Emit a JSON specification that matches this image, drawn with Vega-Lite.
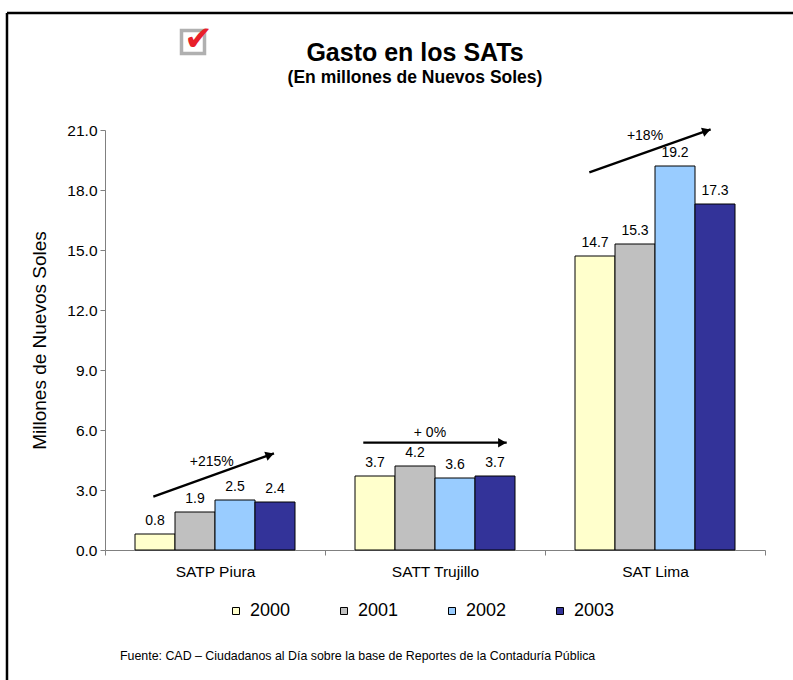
{
  "$schema": "https://vega.github.io/schema/vega-lite/v6.json",
  "width": 660,
  "height": 420,
  "autosize": {"type": "none"},
  "padding": {"left": 105, "top": 130, "right": 28, "bottom": 130},
  "background": "white",
  "config": {
    "view": {"stroke": null},
    "font": "Liberation Sans",
    "text": {"font": "Liberation Sans"}
  },
  "title": {
    "text": "Gasto en los SATs",
    "subtitle": "(En millones de Nuevos Soles)",
    "anchor": "middle",
    "frame": "group",
    "dx": -20,
    "offset": -75,
    "fontSize": 25,
    "fontWeight": "bold",
    "color": "black",
    "subtitleFontSize": 17.5,
    "subtitleFontWeight": "bold",
    "subtitleColor": "black",
    "subtitlePadding": 3,
    "font": "Liberation Sans",
    "subtitleFont": "Liberation Sans"
  },
  "datasets": {
    "bars": [
      {"entidad": "SATP Piura", "anio": "2000", "valor": 0.8},
      {"entidad": "SATP Piura", "anio": "2001", "valor": 1.9},
      {"entidad": "SATP Piura", "anio": "2002", "valor": 2.5},
      {"entidad": "SATP Piura", "anio": "2003", "valor": 2.4},
      {"entidad": "SATT Trujillo", "anio": "2000", "valor": 3.7},
      {"entidad": "SATT Trujillo", "anio": "2001", "valor": 4.2},
      {"entidad": "SATT Trujillo", "anio": "2002", "valor": 3.6},
      {"entidad": "SATT Trujillo", "anio": "2003", "valor": 3.7},
      {"entidad": "SAT Lima", "anio": "2000", "valor": 14.7},
      {"entidad": "SAT Lima", "anio": "2001", "valor": 15.3},
      {"entidad": "SAT Lima", "anio": "2002", "valor": 19.2},
      {"entidad": "SAT Lima", "anio": "2003", "valor": 17.3}
    ],
    "flechas": [
      {"x": 0.2197, "y": 2.67, "x2": 0.768, "y2": 4.83},
      {"x": 1.174, "y": 5.365, "x2": 1.826, "y2": 5.365},
      {"x": 2.2015, "y": 18.885, "x2": 2.753, "y2": 21.03}
    ],
    "puntas": [
      {"x": 0.749, "y": 4.76, "angulo": 340.2},
      {"x": 1.8055, "y": 5.365, "angulo": 0},
      {"x": 2.734, "y": 20.96, "angulo": 340.5}
    ],
    "variaciones": [
      {"x": 0.485, "y": 4.415, "texto": "+215%"},
      {"x": 1.477, "y": 5.835, "texto": "+ 0%"},
      {"x": 2.4545, "y": 20.7, "texto": "+18%"}
    ],
    "marco": [
      {"x": -0.4455, "x2": 3.2, "y": 26.85, "y2": 26.85},
      {"x": -0.4455, "x2": -0.4455, "y": 26.85, "y2": -7}
    ],
    "caja": [{"x": 0.4, "y": 25.4}],
    "check": [{"x": 0.425, "y": 25.5, "texto": "✔"}],
    "fuente": [
      {"x": 0.068, "y": -5.3, "texto": "Fuente: CAD – Ciudadanos al Día sobre la base de Reportes de la Contaduría Pública"}
    ]
  },
  "resolve": {"scale": {"x": "independent"}},
  "layer": [
    {
      "data": {"name": "bars"},
      "encoding": {
        "x": {
          "field": "entidad",
          "type": "nominal",
          "sort": ["SATP Piura", "SATT Trujillo", "SAT Lima"],
          "scale": {"paddingInner": 0, "paddingOuter": 0},
          "axis": {
            "title": null,
            "labelAngle": 0,
            "labelFontSize": 15.5,
            "labelPadding": 9,
            "labelColor": "black",
            "tickBand": "extent",
            "domainColor": "#808080",
            "tickColor": "#808080",
            "tickSize": 5,
            "grid": false
          }
        },
        "xOffset": {
          "field": "anio",
          "type": "nominal",
          "scale": {"paddingInner": 0, "paddingOuter": 0.75}
        },
        "y": {
          "field": "valor",
          "type": "quantitative",
          "title": "Millones de Nuevos Soles",
          "scale": {"domain": [0, 21], "nice": false},
          "axis": {
            "title": "Millones de Nuevos Soles",
            "values": [0, 3, 6, 9, 12, 15, 18, 21],
            "format": ".1f",
            "labelFontSize": 15.5,
            "labelColor": "black",
            "labelPadding": 3,
            "titleFontSize": 19,
            "titleFontWeight": "normal",
            "titleColor": "black",
            "titlePadding": 17,
            "domainColor": "#808080",
            "tickColor": "#808080",
            "tickSize": 5,
            "grid": false
          }
        }
      },
      "layer": [
        {
          "mark": {"type": "bar", "stroke": "black", "strokeWidth": 1},
          "encoding": {
            "color": {
              "field": "anio",
              "type": "nominal",
              "scale": {
                "domain": ["2000", "2001", "2002", "2003"],
                "range": ["#FFFFCC", "#C0C0C0", "#99CCFF", "#333399"]
              },
              "legend": {
                "orient": "none",
                "legendX": 122,
                "legendY": 472,
                "direction": "horizontal",
                "columns": 4,
                "title": null,
                "symbolType": "square",
                "symbolSize": 49,
                "symbolStrokeColor": "black",
                "symbolStrokeWidth": 1,
                "symbolOffset": 0,
                "labelFontSize": 18,
                "labelColor": "black",
                "labelOffset": 5,
                "columnPadding": 44,
                "padding": 0
              }
            }
          }
        },
        {
          "mark": {"type": "text", "baseline": "bottom", "dy": -6, "fontSize": 14, "color": "black"},
          "encoding": {
            "text": {"field": "valor", "type": "quantitative", "format": ".1f"}
          }
        }
      ]
    },
    {
      "layer": [
        {
          "data": {"name": "flechas"},
          "mark": {"type": "rule", "strokeWidth": 2.3, "color": "black"},
          "encoding": {
            "x": {"field": "x", "type": "quantitative", "scale": {"domain": [0, 3], "nice": false, "zero": false}, "axis": null},
            "x2": {"field": "x2"},
            "y": {"field": "y", "type": "quantitative", "title": "Millones de Nuevos Soles", "scale": {"domain": [0, 21], "nice": false}},
            "y2": {"field": "y2"}
          }
        },
        {
          "data": {"name": "puntas"},
          "mark": {"type": "point", "shape": "triangle-right", "filled": true, "size": 90, "color": "black", "opacity": 1},
          "encoding": {
            "x": {"field": "x", "type": "quantitative", "scale": {"domain": [0, 3], "nice": false, "zero": false}, "axis": null},
            "y": {"field": "y", "type": "quantitative", "title": "Millones de Nuevos Soles", "scale": {"domain": [0, 21], "nice": false}},
            "angle": {"field": "angulo", "type": "quantitative", "scale": null}
          }
        },
        {
          "data": {"name": "variaciones"},
          "mark": {"type": "text", "fontSize": 14, "color": "black", "baseline": "middle"},
          "encoding": {
            "x": {"field": "x", "type": "quantitative", "scale": {"domain": [0, 3], "nice": false, "zero": false}, "axis": null},
            "y": {"field": "y", "type": "quantitative", "title": "Millones de Nuevos Soles", "scale": {"domain": [0, 21], "nice": false}},
            "text": {"field": "texto"}
          }
        },
        {
          "data": {"name": "marco"},
          "mark": {"type": "rule", "strokeWidth": 2.5, "color": "black"},
          "encoding": {
            "x": {"field": "x", "type": "quantitative", "scale": {"domain": [0, 3], "nice": false, "zero": false}, "axis": null},
            "x2": {"field": "x2"},
            "y": {"field": "y", "type": "quantitative", "title": "Millones de Nuevos Soles", "scale": {"domain": [0, 21], "nice": false}},
            "y2": {"field": "y2"}
          }
        },
        {
          "data": {"name": "caja"},
          "mark": {"type": "point", "shape": "square", "filled": false, "size": 529, "stroke": "#b0b0b0", "strokeWidth": 3.5, "opacity": 1},
          "encoding": {
            "x": {"field": "x", "type": "quantitative", "scale": {"domain": [0, 3], "nice": false, "zero": false}, "axis": null},
            "y": {"field": "y", "type": "quantitative", "title": "Millones de Nuevos Soles", "scale": {"domain": [0, 21], "nice": false}}
          }
        },
        {
          "data": {"name": "check"},
          "mark": {"type": "text", "font": "DejaVu Sans", "fontSize": 34, "color": "#e8202a", "baseline": "middle"},
          "encoding": {
            "x": {"field": "x", "type": "quantitative", "scale": {"domain": [0, 3], "nice": false, "zero": false}, "axis": null},
            "y": {"field": "y", "type": "quantitative", "title": "Millones de Nuevos Soles", "scale": {"domain": [0, 21], "nice": false}},
            "text": {"field": "texto"}
          }
        },
        {
          "data": {"name": "fuente"},
          "mark": {"type": "text", "fontSize": 12.4, "color": "black", "align": "left", "baseline": "middle"},
          "encoding": {
            "x": {"field": "x", "type": "quantitative", "scale": {"domain": [0, 3], "nice": false, "zero": false}, "axis": null},
            "y": {"field": "y", "type": "quantitative", "title": "Millones de Nuevos Soles", "scale": {"domain": [0, 21], "nice": false}},
            "text": {"field": "texto"}
          }
        }
      ]
    }
  ]
}
